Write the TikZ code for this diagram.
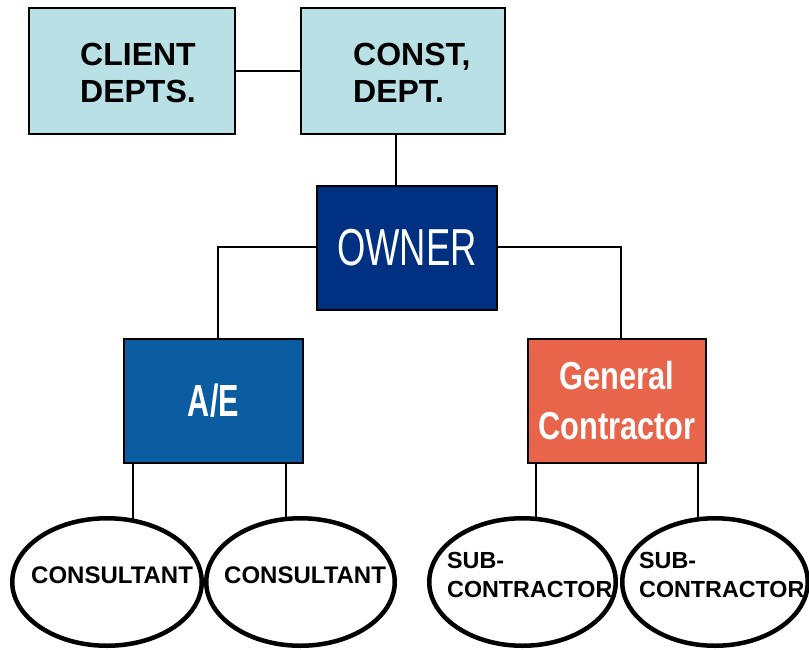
\documentclass[tikz,border=0pt]{standalone}
\usepackage{fontspec}
\usepackage{graphicx}
\setmainfont{Liberation Sans}
\usetikzlibrary{shapes.geometric}
\definecolor{lightbox}{RGB}{185,224,228}
\definecolor{ownerblue}{RGB}{0,48,130}
\definecolor{aeblue}{RGB}{11,92,160}
\definecolor{gcorange}{RGB}{232,100,74}
\begin{document}
\begin{tikzpicture}[x=1pt,y=-1pt,
  topbox/.style={draw=black, line width=2pt, fill=lightbox, minimum height=126pt, minimum width=#1, inner sep=0pt},
  colbox/.style={draw=black, line width=2pt, minimum height=124pt, minimum width=#1, inner sep=0pt, text=white},
  wire/.style={line width=1.8pt, draw=black},
  bubble/.style={ellipse, draw=black, line width=4.5pt, fill=white, minimum height=127.5pt, minimum width=#1, inner sep=0pt},
  toptext/.style={font=\bfseries\fontsize{32}{37}\selectfont, align=left, inner sep=0pt, anchor=base west},
  smalltext/.style={font=\bfseries\fontsize{24}{29}\selectfont, align=left, inner sep=0pt, anchor=base west},
  subtext/.style={font=\bfseries\fontsize{23.3}{29}\selectfont, align=left, inner sep=0pt, anchor=base west}
]
\useasboundingbox (0,0) rectangle (809,649);
\fill[white] (0,0) rectangle (809,649);

% boxes
\node[topbox=206pt] (client) at (132,71) {};
\node[topbox=204pt] (const) at (403,71) {};
\node[colbox=180pt, fill=ownerblue, font=\fontsize{52}{52}\selectfont] (owner) at (407,247.5) {\scalebox{0.70}[1]{OWNER}};
\node[colbox=179pt, fill=aeblue, font=\bfseries\fontsize{45}{46}\selectfont] (ae) at (213.5,401) {\scalebox{0.68}[1]{A/E}};
\node[colbox=178pt, fill=gcorange, font=\bfseries\fontsize{39}{50}\selectfont, align=center] (gc) at (617,401) {\scalebox{0.79}[1]{General}\\\scalebox{0.79}[1]{Contractor}};

% box texts (base anchor = baseline of last line)
\node[toptext] (clientT) at (80,102) {CLIENT\\DEPTS.};
\node[toptext] (constT) at (353,102) {CONST,\\DEPT.};

% connectors
\draw[wire] (client.east) -- (const.west);
\coordinate (cx) at (396,160);
\draw[wire] (const.south -| cx) -- (owner.north -| cx);
\coordinate (aex) at (218,247);
\draw[wire] (owner.west |- aex) -| (ae.north -| aex);
\coordinate (gcx) at (621,247);
\draw[wire] (owner.east |- gcx) -| (gc.north -| gcx);
\coordinate (l1) at (133,582);
\coordinate (l2) at (286,582);
\coordinate (l3) at (536,582);
\coordinate (l4) at (698,582);
\draw[wire] (ae.south -| l1) -- (l1);
\draw[wire] (ae.south -| l2) -- (l2);
\draw[wire] (gc.south -| l3) -- (l3);
\draw[wire] (gc.south -| l4) -- (l4);

% ellipses
\node[bubble=189.5pt] (e1) at (107,582) {};
\node[bubble=188.5pt] (e2) at (300.5,582) {};
\node[bubble=186.5pt] (e3) at (522.5,582) {};
\node[bubble=185.5pt] (e4) at (715,582) {};

% ellipse texts
\node[smalltext] (e1T) at (31,583) {CONSULTANT};
\node[smalltext] (e2T) at (224,583) {CONSULTANT};
\node[subtext] (e3T) at (447,597) {SUB-\\CONTRACTOR};
\node[subtext] (e4T) at (639,597) {SUB-\\CONTRACTOR};
\end{tikzpicture}
\end{document}
